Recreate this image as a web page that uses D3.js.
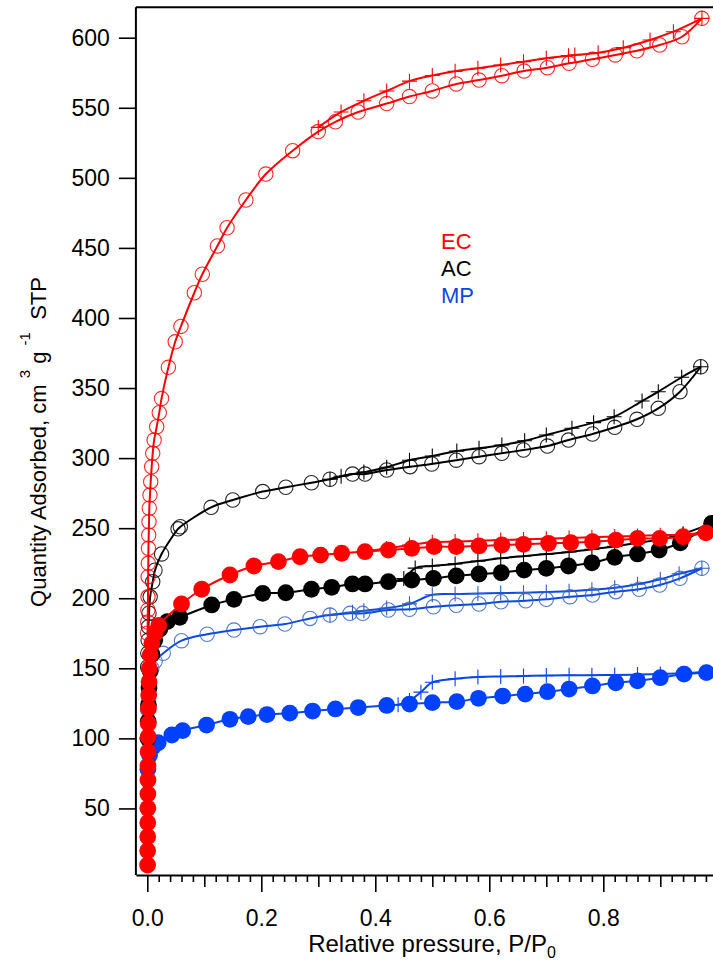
<!DOCTYPE html>
<html><head><meta charset="utf-8">
<script src="https://cdn.jsdelivr.net/npm/d3@7"></script>
<style>
html,body{margin:0;padding:0;background:#fff;overflow:hidden}
text{font-family:"Liberation Sans",Arial,Helvetica,sans-serif}
</style></head>
<body><svg id="c" width="713" height="962"></svg>
<script>
// ---------------- data (P/P0, cm3/g STP) ----------------
const legendLabels = ["EC", "AC", "MP"];
const yTicks = [50,100,150,200,250,300,350,400,450,500,550,600];
const xMajorTicks = [0,0.2,0.4,0.6,0.8];

// EC – open circles (adsorption) and + (desorption)
const ecOpenAds = [[0.0005,175],[0.0008,183],[0.001,191.6],[0.0012,201],[0.0015,215.4],[0.0018,224.9],[0.002,235.6],[0.0025,245.1],[0.003,254.6],[0.0035,264.2],[0.0047,273.7],[0.006,283.2],[0.0077,293.8],[0.0095,303.4],[0.012,312.9],[0.0165,322.4],[0.021,332.4],[0.025,342.5],[0.037,364.8],[0.049,383],[0.059,394],[0.0825,418],[0.0965,431.2],[0.123,451.4],[0.140,464.4],[0.173,484.2],[0.208,502.7],[0.255,519.4],[0.30,533],[0.33,540],[0.37,547],[0.42,553],[0.46,558],[0.50,562],[0.542,567],[0.582,569.8],[0.622,572.9],[0.661,576.2],[0.702,578.6],[0.740,581.7],[0.781,584.6],[0.821,587.7],[0.859,590.7],[0.899,594.8],[0.938,600.7],[0.973,613.8]];
const ecOpenDes = [[0.973,613.8],[0.923,604.3],[0.882,598.4],[0.835,592.9],[0.791,589.3],[0.750,587.7],[0.739,587.2],[0.70,585.3],[0.66,582.9],[0.62,580.5],[0.58,578.2],[0.54,576],[0.50,573],[0.46,569],[0.42,562],[0.38,555],[0.34,547],[0.30,536]];
// EC – filled circles
const ecFillAds = [[0.0005,9.6],[0.0006,19.8],[0.0007,29.8],[0.0008,39.8],[0.0009,50.1],[0.001,60.3],[0.0011,70.3],[0.0012,80.5],[0.0013,90.5],[0.0015,101.2],[0.0017,110.7],[0.002,121.4],[0.0025,130.9],[0.003,140.4],[0.0035,149.9],[0.005,159.4],[0.008,167.8],[0.013,174.9],[0.02,180.6],[0.06,195.9],[0.0955,206.4],[0.145,216.6],[0.187,223],[0.23,226.1],[0.268,229.6],[0.304,230.8],[0.341,232.1],[0.382,233.2],[0.423,234.4],[0.464,235.6],[0.503,236.8],[0.542,236.8],[0.582,237.3],[0.622,238],[0.66,238.5],[0.704,239.2],[0.743,239.6],[0.781,240.3],[0.822,241.5],[0.86,242.7],[0.899,242.7],[0.94,243.9],[0.98,246.7]];
const ecFillDes = [[0.98,246.7],[0.94,245.5],[0.90,245],[0.86,244.5],[0.82,244],[0.78,243.5],[0.74,243],[0.70,242.5],[0.66,242],[0.62,241.5],[0.58,241],[0.54,240.5],[0.50,240],[0.46,238],[0.42,235.5],[0.38,233.5]];
// AC – open circles
const acOpenAds = [[0.0005,151],[0.001,160.7],[0.0015,170],[0.002,179.7],[0.003,189.3],[0.005,201],[0.0095,211.8],[0.0135,220],[0.025,231.6],[0.054,249.5],[0.058,251],[0.112,264.9],[0.150,270.1],[0.2025,276.1],[0.243,279.2],[0.288,282.4],[0.3205,284.9],[0.36,288.6],[0.382,288.6],[0.42,291.5],[0.461,293.9],[0.499,295.8],[0.542,298.5],[0.582,301],[0.622,303.4],[0.66,305.8],[0.702,308.6],[0.739,312.9],[0.781,317.2],[0.82,322],[0.859,327.7],[0.8965,335.5],[0.9345,347.4],[0.971,365.2]];
const acOpenDes = [[0.971,365.2],[0.9375,357.7],[0.8965,347.4],[0.868,340.7],[0.819,329.5],[0.783,325.3],[0.745,321.3],[0.70,316.5],[0.662,312.4],[0.622,309.3],[0.582,307],[0.543,305],[0.50,301.5],[0.46,298.5],[0.42,293.5],[0.38,290],[0.34,287],[0.3205,284.9]];
// AC – filled circles
const acFillAds = [[0.001,100],[0.0015,112],[0.002,124],[0.003,136],[0.005,148],[0.008,160],[0.013,170],[0.022,178],[0.035,183.3],[0.057,186.4],[0.113,195.2],[0.152,199.2],[0.2025,203.5],[0.243,203.9],[0.288,206.4],[0.3235,207.8],[0.36,210.2],[0.382,210.2],[0.423,211.8],[0.464,213],[0.502,214.2],[0.542,216],[0.582,217.3],[0.621,218.2],[0.661,220.1],[0.70,221.3],[0.739,223],[0.78,225.3],[0.82,229.2],[0.86,231.6],[0.898,234.4],[0.935,239.6],[0.99,253.4]];
const acFillDes = [[0.99,253.4],[0.94,246],[0.90,242],[0.86,239.5],[0.82,237],[0.78,235],[0.74,233],[0.70,231.5],[0.66,230],[0.62,228.5],[0.58,226.5],[0.54,224.5],[0.50,223],[0.47,221.5],[0.45,214],[0.42,212]];
// MP – open circles
const mpOpenAds = [[0.001,120],[0.002,130],[0.004,140],[0.008,150],[0.0137,155],[0.028,160.7],[0.06,169.7],[0.105,174.3],[0.152,177.3],[0.198,179.7],[0.2415,181.6],[0.2855,185.6],[0.3205,188],[0.3555,189.2],[0.378,189.2],[0.423,191.6],[0.46,192.1],[0.502,193.9],[0.542,195],[0.582,195.9],[0.6205,197.5],[0.664,198.2],[0.70,199.2],[0.7416,201.1],[0.781,202.3],[0.822,204.7],[0.863,206.4],[0.899,209.4],[0.9345,214.2],[0.973,221.4]];
const mpOpenDes = [[0.973,221.4],[0.933,217.5],[0.90,213.5],[0.86,210],[0.82,207.5],[0.78,206],[0.74,205],[0.70,204.5],[0.66,204],[0.62,203.7],[0.58,203.3],[0.54,203],[0.50,202.5],[0.46,196],[0.42,193],[0.38,191],[0.36,190],[0.3205,188]];
// MP – filled circles
const mpFillAds = [[0.001,78],[0.004,88],[0.01,94],[0.019,96.9],[0.043,102.4],[0.062,105.5],[0.104,109.5],[0.145,113.6],[0.177,115.5],[0.21,117],[0.25,118],[0.29,119.5],[0.33,121],[0.37,122],[0.42,123.5],[0.46,124.5],[0.50,125.5],[0.543,126.2],[0.581,128.6],[0.6235,130.2],[0.663,131.6],[0.702,133.3],[0.740,135.2],[0.781,137.4],[0.822,139.7],[0.86,141.1],[0.90,143.3],[0.9416,145.9],[0.981,146.9]];
const mpFillDes = [[0.981,147.5],[0.94,146.5],[0.90,146],[0.86,145.5],[0.82,145.3],[0.78,145],[0.74,145],[0.70,144.8],[0.66,144.5],[0.62,144.2],[0.58,143.8],[0.54,142.5],[0.50,140],[0.48,133],[0.46,127],[0.44,124]];

// ---------------- chart ----------------
const RED = "#ff0000", BLACK = "#000000", BLUE = "#0a48e0", BLUEFILL = "#0041ff", BLUEOPEN = "#2f62c4";
const svg = d3.select("#c");
const x = d3.scaleLinear().domain([-0.02, 1.02]).range([135.9, 728.7]);
const y = d3.scaleLinear().domain([2.5, 621.7]).range([875, 7.3]);

// frame
svg.append("line").attr("x1", x(-0.02)).attr("x2", 713).attr("y1", 7.3).attr("y2", 7.3).attr("stroke", "#000").attr("stroke-width", 2);

// axes
const yAxis = svg.append("g").attr("transform", `translate(${x(-0.02)},0)`)
  .call(d3.axisLeft(y).tickValues(yTicks).tickSize(17).tickPadding(9).tickSizeOuter(0));
yAxis.select(".domain").attr("d", `M0,${y(621.7)}V${y(2.5)}`);
const xg = svg.append("g").attr("transform", `translate(0,${y(2.5)})`);
xg.call(d3.axisBottom(x).tickValues(d3.range(0, 1.0001, 0.02).filter(v => Math.abs(v*10 - Math.round(v*10)) > 1e-6)).tickSize(7).tickFormat("").tickSizeOuter(0));
xg.append("g").call(d3.axisBottom(x).tickValues([0.1,0.3,0.5,0.7,0.9]).tickSize(12).tickFormat("").tickSizeOuter(0));
xg.append("g").call(d3.axisBottom(x).tickValues(xMajorTicks.concat([1.0])).tickSize(17).tickPadding(18).tickFormat(d => d < 0.99 ? d3.format(".1f")(d) : "").tickSizeOuter(0));
svg.selectAll(".domain").attr("stroke-width", 2);
svg.selectAll(".tick line").attr("stroke-width", 1.6);
svg.selectAll(".tick text").attr("font-size", 23).attr("fill", "#000");
xg.selectAll("g > g > .domain").remove();

// axis titles
const xt = svg.append("text").attr("x", 432).attr("y", 952).attr("text-anchor", "middle").attr("font-size", 24);
xt.append("tspan").text("Relative pressure, P/P");
xt.append("tspan").attr("font-size", 16).attr("dy", 6).text("0");
const yt = svg.append("text").attr("transform", "translate(46,442) rotate(-90)").attr("text-anchor", "middle").attr("font-size", 22);
yt.append("tspan").text("Quantity Adsorbed, cm\u00a0");
yt.append("tspan").attr("font-size", 15).attr("dy", -16).text("3");
yt.append("tspan").attr("dy", 16).text("\u00a0g\u00a0");
yt.append("tspan").attr("font-size", 15).attr("dy", -16).text("-1");
yt.append("tspan").attr("dy", 16).text("\u00a0\u00a0STP");

// legend
const legColors = [RED, BLACK, BLUE];
svg.append("g").selectAll("text").data(legendLabels).join("text")
  .attr("x", 441).attr("y", (d, i) => 249 + i * 27).attr("font-size", 22)
  .attr("fill", (d, i) => legColors[i]).text(d => d);

// series
const plot = svg.append("g");
const line = d3.line().x(d => x(d[0])).y(d => y(d[1])).curve(d3.curveCatmullRom.alpha(0.5));
function drawLine(data, color, w) {
  plot.append("path").datum(data).attr("d", line).attr("fill", "none").attr("stroke", color).attr("stroke-width", w);
}
function drawOpen(data, color) {
  plot.append("g").selectAll("circle").data(data).join("circle")
    .attr("cx", d => x(d[0])).attr("cy", d => y(d[1])).attr("r", 7.2)
    .attr("fill", "none").attr("stroke", color).attr("stroke-width", 1.1).attr("stroke-opacity", 0.85);
}
function drawFilled(data, color) {
  plot.append("g").selectAll("circle").data(data).join("circle")
    .attr("cx", d => x(d[0])).attr("cy", d => y(d[1])).attr("r", 8.4).attr("fill", color);
}
function drawPlus(data, color) {
  plot.append("g").selectAll("path").data(data).join("path")
    .attr("d", d => { const cx = x(d[0]), cy = y(d[1]); return `M${cx-7.5},${cy}H${cx+7.5}M${cx},${cy-7.5}V${cy+7.5}`; })
    .attr("fill", "none").attr("stroke", color).attr("stroke-width", 1.1);
}
const series = [
  [mpFillAds, mpFillDes, BLUE, BLUEFILL, true],
  [mpOpenAds, mpOpenDes, BLUE, BLUEOPEN, false],
  [acOpenAds, acOpenDes, BLACK, BLACK, false],
  [ecOpenAds, ecOpenDes, RED, RED, false],
  [acFillAds, acFillDes, BLACK, BLACK, true],
  [ecFillAds, ecFillDes, RED, RED, true]
];
series.forEach(([ads, des, lc, mc, filled]) => {
  drawLine(ads, lc, 2);
  drawLine(des, lc, 2);
  drawPlus(des, mc);
  if (filled) drawFilled(ads, mc); else drawOpen(ads, mc);
});
</script></body></html>
